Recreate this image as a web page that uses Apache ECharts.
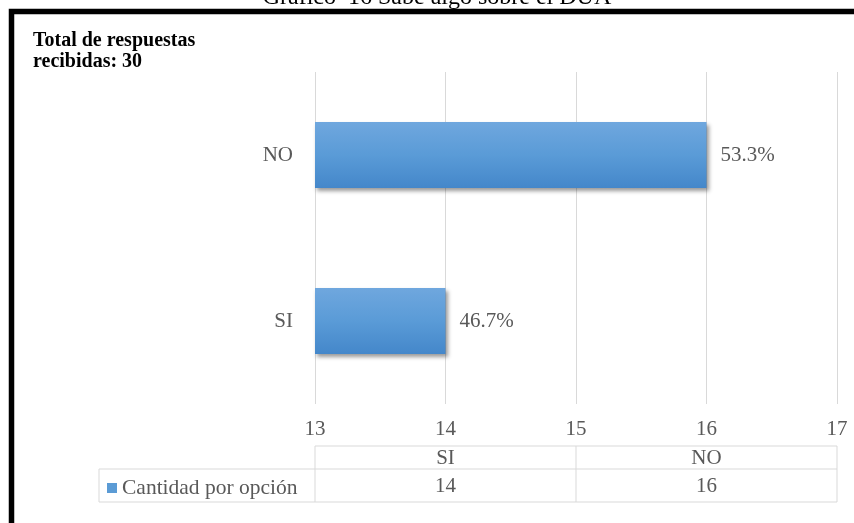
<!DOCTYPE html>
<html>
<head>
<meta charset="utf-8">
<script src="https://cdn.jsdelivr.net/npm/echarts@6/dist/echarts.min.js"></script>
<style>
  html, body { margin: 0; padding: 0; background: #fff; }
  #chart { width: 854px; height: 523px; }
</style>
</head>
<body>
<div id="chart"></div>
<script>
// Survey answers: "Sabe algo sobre el DUA"
const categories = ['SI', 'NO'];
const counts = [14, 16];
const seriesName = 'Cantidad por opción';
const axisMin = 13;
const axisMax = 17;
const axisStep = 1;

const FONT = "'Liberation Serif', 'Times New Roman', serif";
const GREY = '#595959';
const LINE = '#d9d9d9';
const BLUE = '#5b9bd5';
const total = counts.reduce((a, b) => a + b, 0);

const chart = echarts.init(document.getElementById('chart'), null, { renderer: 'canvas' });

chart.setOption({
  animation: false,
  backgroundColor: '#fff',
  title: {
    text: 'Total de respuestas\nrecibidas: ' + total,
    left: 28,
    top: 25,
    textStyle: { fontFamily: FONT, fontWeight: 'bold', fontSize: 20, lineHeight: 21, color: '#000' }
  },
  legend: {
    data: [seriesName],
    left: 102,
    top: 472,
    icon: 'rect',
    itemWidth: 10,
    itemHeight: 10,
    itemStyle: { color: BLUE, borderWidth: 0, shadowBlur: 0, shadowOffsetX: 0, shadowOffsetY: 0, shadowColor: 'transparent' },
    textStyle: { fontFamily: FONT, fontSize: 21.5, color: GREY }
  },
  grid: { left: 315, right: 17, top: 72, bottom: 119, containLabel: false },
  xAxis: {
    type: 'value',
    min: axisMin,
    max: axisMax,
    interval: axisStep,
    axisLine: { show: false },
    axisTick: { show: false },
    splitLine: { show: true, lineStyle: { color: LINE, width: 1 } },
    axisLabel: { fontFamily: FONT, fontSize: 21, color: GREY, margin: 15 }
  },
  yAxis: {
    type: 'category',
    data: categories,
    axisLine: { show: false },
    axisTick: { show: false },
    axisLabel: { fontFamily: FONT, fontSize: 21, color: GREY, margin: 22 }
  },
  series: [{
    name: seriesName,
    type: 'bar',
    data: counts,
    barWidth: 66,
    itemStyle: {
      color: new echarts.graphic.LinearGradient(0, 0, 0, 1, [
        { offset: 0, color: '#6fa7de' },
        { offset: 0.5, color: '#5a9bd7' },
        { offset: 1, color: '#4487ca' }
      ]),
      shadowColor: 'rgba(0,0,0,0.4)',
      shadowBlur: 4,
      shadowOffsetX: 2,
      shadowOffsetY: 3
    },
    label: {
      show: true,
      position: 'right',
      distance: 14,
      fontFamily: FONT,
      fontSize: 21,
      color: GREY,
      formatter: p => (p.value / total * 100).toFixed(1) + '%'
    }
  }]
});

// Data table under the axis, laid out from the axis scale
const px = v => chart.convertToPixel({ xAxisIndex: 0 }, v);
const xStart = px(axisMin);
const xEnd = px(axisMax);
const colW = (xEnd - xStart) / categories.length;
const rowTop = 446, rowMid = 469, rowBottom = 502, legendLeft = 99;

const g = [];
const line = (x1, y1, x2, y2) => g.push({
  type: 'line', shape: { x1, y1, x2, y2 }, style: { stroke: LINE, lineWidth: 1 }, silent: true
});
line(xStart, rowTop, xEnd, rowTop);
line(legendLeft, rowMid, xEnd, rowMid);
line(legendLeft, rowBottom, xEnd, rowBottom);
line(legendLeft, rowMid, legendLeft, rowBottom);
for (let i = 0; i <= categories.length; i++) {
  line(xStart + i * colW, rowTop, xStart + i * colW, rowBottom);
}
categories.forEach((c, i) => {
  const cx = xStart + (i + 0.5) * colW;
  g.push({ type: 'text', x: cx, y: (rowTop + rowMid) / 2 + 1, style: {
    text: c, fontFamily: FONT, fontSize: 21, fill: GREY, align: 'center', verticalAlign: 'middle' } });
  g.push({ type: 'text', x: cx, y: (rowMid + rowBottom) / 2 + 1, style: {
    text: String(counts[i]), fontFamily: FONT, fontSize: 21, fill: GREY, align: 'center', verticalAlign: 'middle' } });
});

// Page frame and caption
g.push({ type: 'rect', shape: { x: 11.5, y: 11.5, width: 900, height: 600 },
  style: { fill: 'none', stroke: '#000', lineWidth: 5.5 }, silent: true });
g.push({ type: 'text', x: 437, y: -2, style: {
  text: 'Gráfico  16 Sabe algo sobre el DUA', fontFamily: FONT, fontSize: 24, fill: '#000',
  align: 'center', verticalAlign: 'middle' } });

chart.setOption({ graphic: g });
</script>
</body>
</html>
